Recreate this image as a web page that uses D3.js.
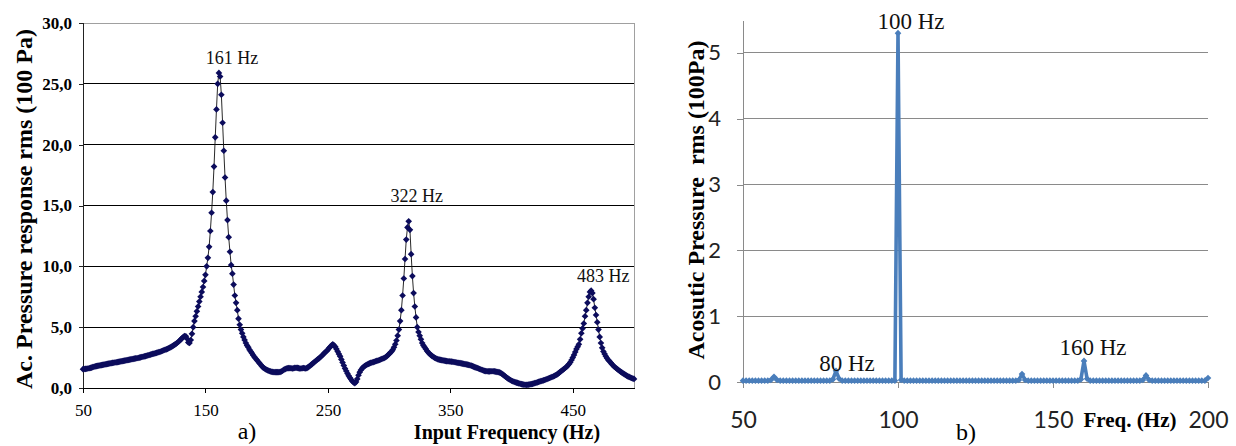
<!DOCTYPE html>
<html>
<head>
<meta charset="utf-8">
<script src="https://cdn.jsdelivr.net/npm/d3@7"></script>
<style>
  body { margin: 0; background: #fff; }
  svg { display: block; }
  .serif { font-family: "Liberation Serif", "Times New Roman", serif; }
  .sans { font-family: Lato, "Liberation Sans", sans-serif; }
</style>
</head>
<body>
<div id="chart"></div>
<script>
// ---- panel a) : frequency response, 1 Hz steps from 50 to 500 Hz ----
var respFreqs = d3.range(50, 501);
var respValues = [
  1.55,1.56,1.57,1.58,1.60,1.62,1.65,1.68,1.72,1.75,
  1.78,1.80,1.82,1.84,1.86,1.88,1.90,1.92,1.94,1.96,
  1.98,2.00,2.02,2.04,2.06,2.08,2.10,2.11,2.13,2.15,
  2.17,2.19,2.21,2.23,2.25,2.27,2.29,2.31,2.33,2.35,
  2.37,2.39,2.41,2.43,2.45,2.47,2.50,2.52,2.55,2.57,
  2.60,2.62,2.65,2.68,2.71,2.74,2.77,2.80,2.83,2.86,
  2.89,2.92,2.95,2.98,3.02,3.06,3.10,3.14,3.18,3.22,
  3.27,3.32,3.38,3.44,3.50,3.57,3.64,3.72,3.80,3.90,
  4.00,4.10,4.20,4.27,4.25,4.05,3.75,3.70,3.95,4.45,
  5.00,5.50,5.90,6.30,6.70,7.10,7.50,7.90,8.30,8.80,
  9.30,10.0,10.7,11.6,12.9,14.4,16.1,18.2,20.6,22.9,
  25.0,25.9,25.6,24.1,21.8,19.5,17.3,15.4,13.8,12.4,
  11.2,10.1,9.40,8.50,7.60,7.00,6.40,5.70,5.20,4.80,
  4.50,4.20,3.95,3.70,3.50,3.35,3.15,3.00,2.85,2.70,
  2.55,2.42,2.30,2.18,2.05,1.93,1.80,1.70,1.62,1.55,
  1.50,1.45,1.40,1.37,1.34,1.32,1.30,1.30,1.30,1.30,
  1.30,1.32,1.36,1.42,1.50,1.55,1.60,1.62,1.63,1.63,
  1.62,1.60,1.62,1.65,1.66,1.65,1.63,1.60,1.60,1.62,
  1.64,1.62,1.60,1.65,1.72,1.80,1.88,1.96,2.05,2.13,
  2.22,2.30,2.38,2.46,2.55,2.65,2.75,2.85,2.95,3.05,
  3.15,3.28,3.40,3.50,3.60,3.50,3.40,3.20,3.00,2.80,
  2.60,2.35,2.10,1.85,1.60,1.40,1.20,1.00,0.85,0.70,
  0.55,0.45,0.40,0.50,0.75,1.05,1.30,1.48,1.62,1.72,
  1.80,1.87,1.93,1.98,2.02,2.06,2.10,2.13,2.16,2.20,
  2.23,2.26,2.30,2.34,2.38,2.42,2.47,2.53,2.60,2.70,
  2.80,2.90,3.00,3.15,3.35,3.60,3.90,4.30,4.80,5.50,
  6.40,7.60,9.00,10.6,12.2,13.2,13.7,13.0,11.0,9.20,
  7.80,6.70,5.80,5.00,4.60,4.30,4.00,3.70,3.50,3.35,
  3.20,3.05,2.92,2.82,2.72,2.64,2.57,2.50,2.45,2.40,
  2.35,2.33,2.31,2.29,2.27,2.25,2.23,2.21,2.20,2.19,
  2.18,2.17,2.16,2.14,2.12,2.10,2.08,2.06,2.04,2.02,
  2.00,1.98,1.96,1.94,1.92,1.90,1.87,1.84,1.80,1.76,
  1.72,1.68,1.64,1.60,1.56,1.52,1.48,1.44,1.41,1.39,
  1.38,1.37,1.37,1.38,1.38,1.38,1.37,1.35,1.33,1.31,
  1.28,1.24,1.18,1.10,1.02,0.94,0.86,0.79,0.72,0.66,
  0.60,0.55,0.51,0.47,0.44,0.42,0.38,0.35,0.32,0.30,
  0.28,0.27,0.26,0.27,0.28,0.30,0.32,0.34,0.37,0.40,
  0.43,0.46,0.50,0.53,0.56,0.60,0.63,0.66,0.70,0.74,
  0.78,0.82,0.86,0.90,0.95,1.00,1.05,1.10,1.18,1.26,
  1.35,1.42,1.50,1.58,1.66,1.75,1.86,1.98,2.12,2.30,
  2.50,2.72,2.95,3.20,3.40,3.60,4.00,4.50,4.90,5.30,
  5.90,6.40,7.00,7.50,7.90,8.00,7.80,7.30,6.60,6.00,
  5.40,4.80,4.20,3.70,3.30,3.00,2.80,2.60,2.45,2.30,
  2.20,2.08,1.96,1.85,1.75,1.66,1.58,1.50,1.42,1.35,
  1.28,1.21,1.14,1.08,1.02,0.96,0.91,0.86,0.82,0.78,
  0.75
];
var respXTicks = [50, 150, 250, 350, 450];
var respYTicks = [0, 5, 10, 15, 20, 25, 30];
var respPeaks = [
  { label: "161 Hz", f: 161, v: 25.9, dx: 13, dy: -9 },
  { label: "322 Hz", f: 316, v: 13.7, dx: 8, dy: -19 },
  { label: "483 Hz", f: 465, v: 8.0, dx: 12, dy: -9 }
];

// ---- panel b) : spectrum, 1 Hz steps from 50 to 200 Hz ----
var specFreqs = d3.range(50, 201);
var specValues = [
  0.02,0.02,0.02,0.02,0.02,0.02,0.02,0.02,0.02,0.03,  // 50-59
  0.08,0.03,0.02,0.02,0.02,0.02,0.02,0.02,0.02,0.02,  // 60-69
  0.02,0.02,0.02,0.02,0.02,0.02,0.02,0.02,0.02,0.04,  // 70-79
  0.17,0.05,0.02,0.02,0.02,0.02,0.02,0.02,0.02,0.02,  // 80-89
  0.02,0.02,0.02,0.02,0.02,0.02,0.02,0.02,0.02,0.02,  // 90-99
  5.30,0.03,0.02,0.02,0.02,0.02,0.02,0.02,0.02,0.02,  // 100-109
  0.02,0.02,0.02,0.02,0.02,0.02,0.02,0.02,0.02,0.02,  // 110-119
  0.02,0.02,0.02,0.02,0.02,0.02,0.02,0.02,0.02,0.02,  // 120-129
  0.02,0.02,0.02,0.02,0.02,0.02,0.02,0.02,0.02,0.03,  // 130-139
  0.12,0.03,0.02,0.02,0.02,0.02,0.02,0.02,0.02,0.02,  // 140-149
  0.02,0.02,0.02,0.02,0.02,0.02,0.02,0.02,0.02,0.04,  // 150-159
  0.32,0.05,0.02,0.02,0.02,0.02,0.02,0.02,0.02,0.02,  // 160-169
  0.02,0.02,0.02,0.02,0.02,0.02,0.02,0.02,0.02,0.03,  // 170-179
  0.10,0.03,0.02,0.02,0.02,0.02,0.02,0.02,0.02,0.02,  // 180-189
  0.02,0.02,0.02,0.02,0.02,0.02,0.02,0.02,0.02,0.02,  // 190-199
  0.06
];
var specXTicks = [50, 100, 150, 200];
var specYTicks = [0, 1, 2, 3, 4, 5];
var specPeaks = [
  { label: "100 Hz", f: 100, v: 5.30, dx: 13, dy: -4 },
  { label: "80 Hz", f: 80, v: 0.17, dx: 11, dy: 0 },
  { label: "160 Hz", f: 160, v: 0.32, dx: 9, dy: -6 }
];

var width = 1236, height = 446;

var svg = d3.select("#chart").append("svg")
  .attr("width", width)
  .attr("height", height);

// =============== panel a) ===============
var xA = d3.scaleLinear().domain([50, 500]).range([83, 634]);
var yA = d3.scaleLinear().domain([0, 30]).range([388, 23]);

var gA = svg.append("g");

// horizontal grid
gA.selectAll(".gridA")
  .data(respYTicks.slice(1))
  .enter().append("line")
    .attr("x1", xA(50)).attr("x2", xA(500))
    .attr("y1", function(d) { return yA(d); })
    .attr("y2", function(d) { return yA(d); })
    .attr("stroke", function(d) { return d === 30 ? "#a0a0a0" : "#000"; })
    .attr("stroke-width", 1)
    .attr("shape-rendering", "crispEdges");

// right border
gA.append("line")
  .attr("x1", xA(500)).attr("x2", xA(500))
  .attr("y1", yA(30)).attr("y2", yA(0))
  .attr("stroke", "#a0a0a0")
  .attr("shape-rendering", "crispEdges");

var yAxisA = d3.axisLeft(yA)
  .tickValues(respYTicks)
  .tickSize(4)
  .tickPadding(7)
  .tickFormat(function(d) { return d3.format(".1f")(d).replace(".", ","); });

gA.append("g")
  .attr("transform", "translate(" + xA(50) + ",0)")
  .call(yAxisA)
  .call(function(g) {
    g.selectAll("path, line").attr("stroke", "#222").attr("shape-rendering", "crispEdges");
    g.selectAll("text")
      .attr("class", "serif")
      .attr("font-size", 17)
      .attr("font-weight", "bold")
      .attr("fill", "#000");
  });

var xAxisA = d3.axisBottom(xA)
  .tickValues(respXTicks)
  .tickSize(5)
  .tickPadding(11)
  .tickSizeOuter(0)
  .tickFormat(d3.format("d"));

gA.append("g")
  .attr("transform", "translate(0," + yA(0) + ")")
  .call(xAxisA)
  .call(function(g) {
    g.selectAll("path, line").attr("stroke", "#000").attr("shape-rendering", "crispEdges");
    g.selectAll("text")
      .attr("class", "serif")
      .attr("font-size", 17)
      .attr("fill", "#000");
  });

var lineA = d3.line()
  .x(function(d, i) { return xA(respFreqs[i]); })
  .y(function(d) { return yA(d); });

gA.append("path")
  .datum(respValues)
  .attr("d", lineA)
  .attr("fill", "none")
  .attr("stroke", "#111")
  .attr("stroke-width", 0.9);

var diamondA = d3.symbol().type(d3.symbolSquare).size(22);
gA.selectAll(".markA")
  .data(respValues)
  .enter().append("path")
    .attr("d", diamondA)
    .attr("transform", function(d, i) {
      return "translate(" + xA(respFreqs[i]) + "," + yA(d) + ") rotate(45)";
    })
    .attr("fill", "#0c0c5c");

gA.selectAll(".peakA")
  .data(respPeaks)
  .enter().append("text")
    .attr("class", "serif")
    .attr("x", function(d) { return xA(d.f) + d.dx; })
    .attr("y", function(d) { return yA(d.v) + d.dy; })
    .attr("text-anchor", "middle")
    .attr("font-size", 18)
    .attr("fill", "#111")
    .text(function(d) { return d.label; });

gA.append("text")
  .attr("class", "serif")
  .attr("transform", "translate(32,209) rotate(-90)")
  .attr("text-anchor", "middle")
  .attr("font-size", 24)
  .attr("font-weight", "bold")
  .text("Ac. Pressure response rms (100 Pa)");

gA.append("text")
  .attr("class", "serif")
  .attr("x", 507).attr("y", 439)
  .attr("text-anchor", "middle")
  .attr("font-size", 20)
  .attr("font-weight", "bold")
  .text("Input Frequency  (Hz)");

gA.append("text")
  .attr("class", "serif")
  .attr("x", 247).attr("y", 439)
  .attr("text-anchor", "middle")
  .attr("font-size", 24)
  .text("a)");

// =============== panel b) ===============
var xB = d3.scaleLinear().domain([50, 200]).range([743, 1208]);
var yB = d3.scaleLinear().domain([0, 5.5]).range([382, 20]);

var gB = svg.append("g");

gB.selectAll(".gridB")
  .data(specYTicks.slice(1))
  .enter().append("line")
    .attr("x1", xB(50)).attr("x2", xB(200))
    .attr("y1", function(d) { return yB(d); })
    .attr("y2", function(d) { return yB(d); })
    .attr("stroke", "#8a8a8a")
    .attr("shape-rendering", "crispEdges");

var yAxisB = d3.axisLeft(yB)
  .tickValues(specYTicks)
  .tickSize(6)
  .tickPadding(16)
  .tickSizeOuter(0)
  .tickFormat(d3.format("d"));

gB.append("g")
  .attr("transform", "translate(" + xB(50) + ",0)")
  .call(yAxisB)
  .call(function(g) {
    g.selectAll("path, line").attr("stroke", "#8a8a8a").attr("shape-rendering", "crispEdges");
    g.selectAll("text")
      .attr("class", "sans")
      .attr("font-size", 22)
      .attr("fill", "#222");
  });

var xAxisB = d3.axisBottom(xB)
  .tickValues(specXTicks)
  .tickSize(6)
  .tickPadding(24)
  .tickSizeOuter(0)
  .tickFormat(d3.format("d"));

gB.append("g")
  .attr("transform", "translate(0," + yB(0) + ")")
  .call(xAxisB)
  .call(function(g) {
    g.selectAll("path, line").attr("stroke", "#8a8a8a").attr("shape-rendering", "crispEdges");
    g.selectAll("text")
      .attr("class", "sans")
      .attr("font-size", 23)
      .attr("fill", "#222");
  });

var lineB = d3.line()
  .x(function(d, i) { return xB(specFreqs[i]); })
  .y(function(d) { return yB(d); });

gB.append("path")
  .datum(specValues)
  .attr("d", lineB)
  .attr("fill", "none")
  .attr("stroke", "#4a7ebb")
  .attr("stroke-width", 3.6)
  .attr("stroke-linejoin", "round");

var diamondB = d3.symbol().type(d3.symbolSquare).size(22);
gB.selectAll(".markB")
  .data(specValues)
  .enter().append("path")
    .attr("d", diamondB)
    .attr("transform", function(d, i) {
      return "translate(" + xB(specFreqs[i]) + "," + yB(d) + ") rotate(45)";
    })
    .attr("fill", "#4a7ebb");

gB.selectAll(".peakB")
  .data(specPeaks)
  .enter().append("text")
    .attr("class", "serif")
    .attr("x", function(d) { return xB(d.f) + d.dx; })
    .attr("y", function(d) { return yB(d.v) + d.dy; })
    .attr("text-anchor", "middle")
    .attr("font-size", 23)
    .attr("fill", "#111")
    .text(function(d) { return d.label; });

gB.append("text")
  .attr("class", "serif")
  .attr("transform", "translate(704,200) rotate(-90)")
  .attr("text-anchor", "middle")
  .attr("font-size", 24)
  .attr("font-weight", "bold")
  .attr("xml:space", "preserve")
  .style("white-space", "pre")
  .text("Acosutic Pressure  rms (100Pa)");

gB.append("text")
  .attr("class", "serif")
  .attr("x", 1130).attr("y", 427)
  .attr("text-anchor", "middle")
  .attr("font-size", 21)
  .attr("font-weight", "bold")
  .text("Freq. (Hz)");

gB.append("text")
  .attr("class", "serif")
  .attr("x", 966).attr("y", 440)
  .attr("text-anchor", "middle")
  .attr("font-size", 24)
  .text("b)");
</script>
</body>
</html>
